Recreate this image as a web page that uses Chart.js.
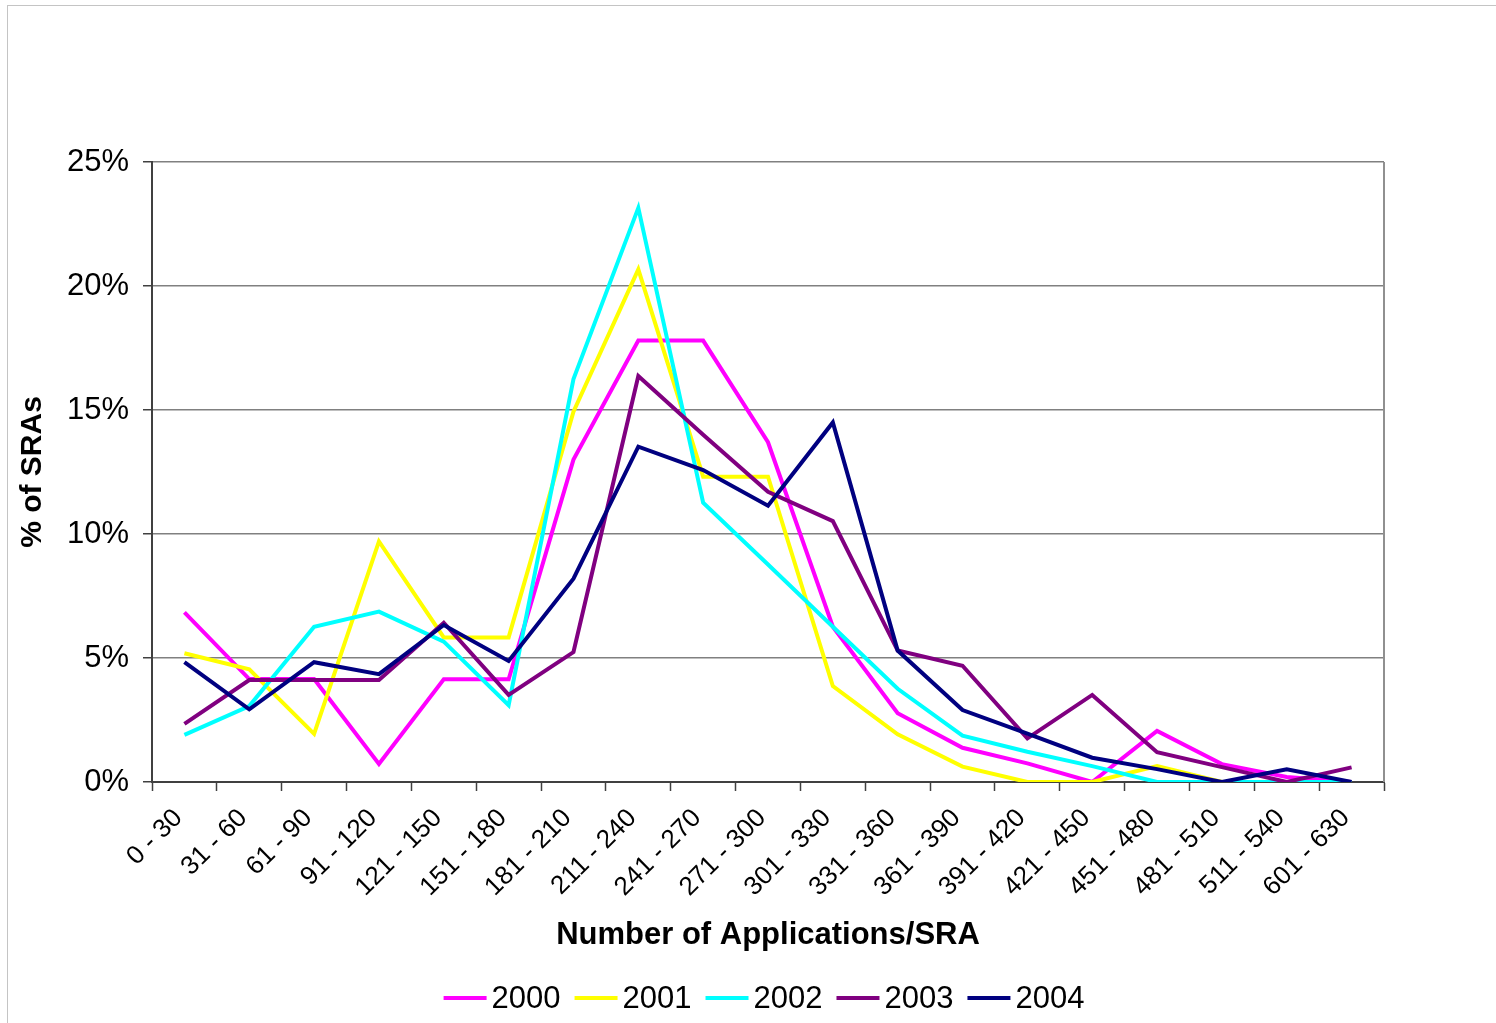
<!DOCTYPE html>
<html>
<head>
<meta charset="utf-8">
<script src="https://cdn.jsdelivr.net/npm/chart.js@4"></script>
<style>
  html, body { margin: 0; padding: 0; background: #fff; }
  #wrap { width: 1496px; height: 1023px; }
</style>
</head>
<body>
<div id="wrap"><canvas id="chart" width="1496" height="1023"></canvas></div>
<script>
const categories = ['0 - 30', '31 - 60', '61 - 90', '91 - 120', '121 - 150', '151 - 180', '181 - 210',
  '211 - 240', '241 - 270', '271 - 300', '301 - 330', '331 - 360', '361 - 390', '391 - 420',
  '421 - 450', '451 - 480', '481 - 510', '511 - 540', '601 - 630'];

// % of SRAs per year
const y2000 = [6.84, 4.15, 4.15, 0.73, 4.14, 4.14, 13.0, 17.8, 17.8, 13.7, 6.26, 2.77, 1.38, 0.75, 0, 2.06, 0.72, 0.2, 0];
const y2001 = [5.19, 4.54, 1.94, 9.7, 5.83, 5.83, 14.93, 20.67, 12.31, 12.31, 3.87, 1.92, 0.62, 0, 0, 0.64, 0, 0, 0];
const y2002 = [1.9, 3.06, 6.26, 6.87, 5.66, 3.1, 16.25, 23.15, 11.26, 8.77, 6.26, 3.76, 1.87, 1.22, 0.64, 0, 0, 0, 0];
const y2003 = [2.34, 4.11, 4.11, 4.11, 6.42, 3.51, 5.24, 16.37, 14.0, 11.7, 10.52, 5.3, 4.69, 1.76, 3.51, 1.2, 0.6, 0, 0.59];
const y2004 = [4.83, 2.93, 4.83, 4.35, 6.33, 4.88, 8.2, 13.52, 12.58, 11.14, 14.5, 5.3, 2.9, 1.95, 0.98, 0.52, 0, 0.51, 0];

const years = ['2000', '2001', '2002', '2003', '2004'];
const colors = ['#ff00ff', '#ffff00', '#00ffff', '#800080', '#000080'];
const series = [y2000, y2001, y2002, y2003, y2004];

const FONT = "'Liberation Sans', Arial, sans-serif";

// frame round the whole chart + right edge of the plot
const framePlugin = {
  id: 'frame',
  beforeDraw(chart) {
    const ctx = chart.ctx;
    ctx.save();
    ctx.strokeStyle = '#c4c4c4';
    ctx.lineWidth = 1;
    ctx.strokeRect(7.5, 5.5, 1500, 1030);
    ctx.restore();
  },
  beforeDatasetsDraw(chart) {
    const { ctx, chartArea } = chart;
    ctx.save();
    ctx.strokeStyle = '#909090';
    ctx.lineWidth = 2;
    ctx.beginPath();
    ctx.moveTo(chartArea.right, chartArea.top);
    ctx.lineTo(chartArea.right, chartArea.bottom);
    ctx.stroke();
    ctx.restore();
  }
};

// legend drawn like the original: short line, small gap, label
const legendPlugin = {
  id: 'lineLegend',
  afterDraw(chart) {
    const ctx = chart.ctx;
    const lineLen = 43, gap = 5, spacing = 14, cy = 998;
    ctx.save();
    ctx.font = '31px ' + FONT;
    const items = chart.data.datasets.map(ds => ({ ds, w: ctx.measureText(ds.label).width }));
    const total = items.reduce((s, it) => s + lineLen + gap + it.w, 0) + spacing * (items.length - 1);
    let x = 764 - total / 2;
    items.forEach(it => {
      ctx.strokeStyle = it.ds.borderColor;
      ctx.lineWidth = 4;
      ctx.beginPath();
      ctx.moveTo(x, cy);
      ctx.lineTo(x + lineLen, cy);
      ctx.stroke();
      x += lineLen + gap;
      ctx.fillStyle = '#000';
      ctx.textAlign = 'left';
      ctx.textBaseline = 'middle';
      ctx.fillText(it.ds.label, x, cy + 1);
      x += it.w + spacing;
    });
    ctx.restore();
  }
};

new Chart(document.getElementById('chart'), {
  type: 'line',
  data: {
    labels: categories,
    datasets: series.map((vals, i) => ({
      label: years[i],
      data: vals,
      borderColor: colors[i],
      backgroundColor: colors[i],
      borderWidth: 4,
      pointRadius: 0,
      tension: 0,
      fill: false,
      order: series.length - i
    }))
  },
  options: {
    responsive: false,
    animation: false,
    layout: { padding: { left: 0, top: 162, right: 112, bottom: 0 } },
    plugins: {
      legend: { display: false },
      tooltip: { enabled: false }
    },
    scales: {
      x: {
        offset: true,
        grid: {
          offset: true,
          drawOnChartArea: false,
          drawTicks: true,
          tickLength: 9,
          tickColor: '#404040',
          tickWidth: 1.5
        },
        border: { color: '#404040', width: 2 },
        ticks: {
          minRotation: 45,
          maxRotation: 45,
          autoSkip: false,
          padding: 12,
          labelOffset: -6,
          color: '#000',
          font: { family: FONT, size: 26 }
        },
        title: {
          display: true,
          text: 'Number of Applications/SRA',
          color: '#000',
          font: { family: FONT, size: 31, weight: 'bold' },
          padding: { top: 0, bottom: 69 }
        },
        afterFit(scale) { scale.height = 1023 - 782; }
      },
      y: {
        min: 0,
        max: 25,
        grid: {
          color: '#808080',
          lineWidth: 1.5,
          drawTicks: true,
          tickLength: 9,
          tickColor: '#404040',
          tickWidth: 1.5
        },
        border: { color: '#404040', width: 2 },
        ticks: {
          stepSize: 5,
          padding: 14,
          color: '#000',
          font: { family: FONT, size: 31 },
          callback: v => v + '%'
        },
        title: {
          display: true,
          text: '% of SRAs',
          color: '#000',
          font: { family: FONT, size: 30, weight: 'bold' },
          padding: { top: 15, bottom: 0 }
        },
        afterFit(scale) { scale.width = 152; }
      }
    }
  },
  plugins: [framePlugin, legendPlugin]
});
</script>
</body>
</html>
